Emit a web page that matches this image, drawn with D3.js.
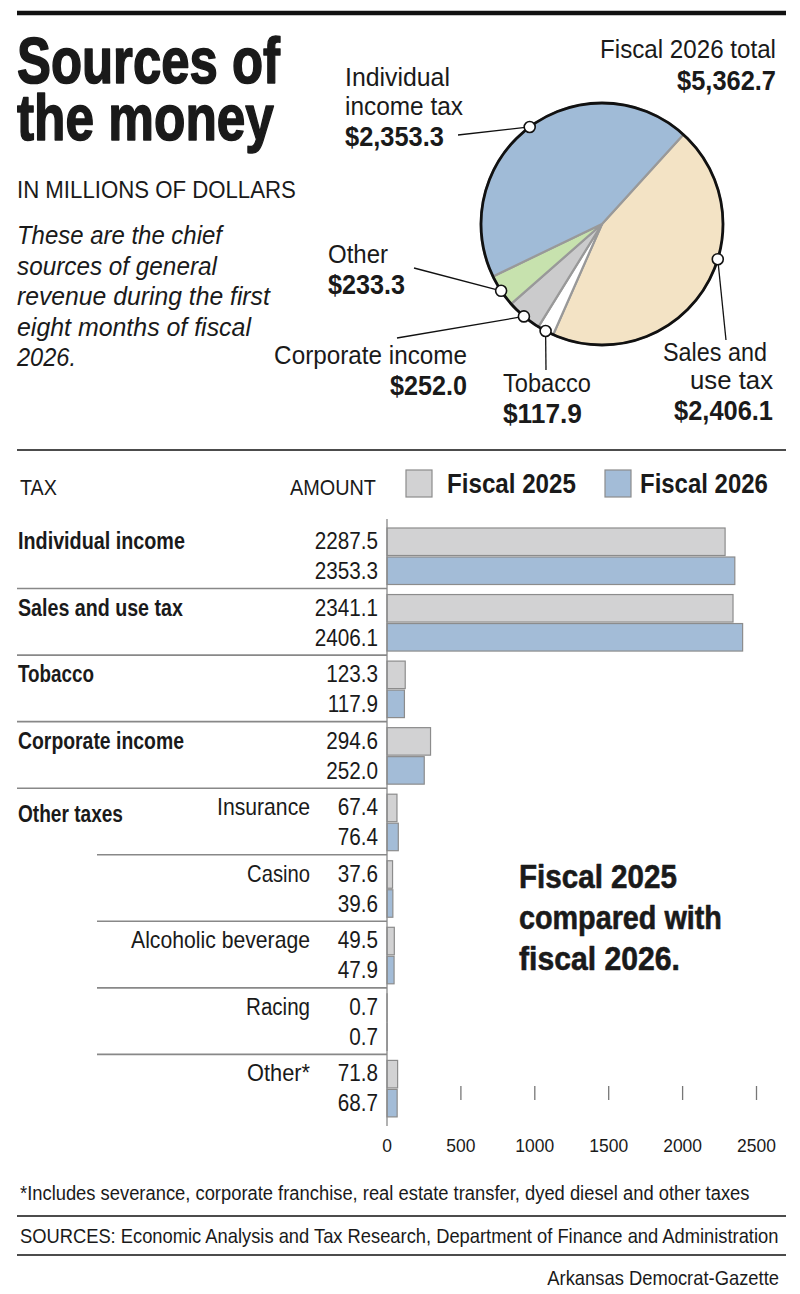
<!DOCTYPE html>
<html><head><meta charset="utf-8">
<script src="https://cdn.jsdelivr.net/npm/d3@7"></script>
<style>
html,body{margin:0;padding:0;background:#fff;}
svg text{font-family:"Liberation Sans",Arial,"Helvetica",sans-serif;fill:#1a1a1a;}
</style></head>
<body>
<svg id="c" width="800" height="1294"></svg>
<script>
// ---- data ----
const pieLabels = ["Sales and use tax", "Tobacco", "Corporate income", "Other", "Individual income tax"];
const pieValues = [2406.1, 117.9, 252.0, 233.3, 2353.3];
const pieValueText = ["$2,406.1", "$117.9", "$252.0", "$233.3", "$2,353.3"];
const pieTotalText = "$5,362.7";

const barGroups = ["Individual income", "Sales and use tax", "Tobacco", "Corporate income", "Insurance", "Casino", "Alcoholic beverage", "Racing", "Other*"];
const fiscal2025 = [2287.5, 2341.1, 123.3, 294.6, 67.4, 37.6, 49.5, 0.7, 71.8];
const fiscal2026 = [2353.3, 2406.1, 117.9, 252.0, 76.4, 39.6, 47.9, 0.7, 68.7];
const fiscal2025Text = ["2287.5", "2341.1", "123.3", "294.6", "67.4", "37.6", "49.5", "0.7", "71.8"];
const fiscal2026Text = ["2353.3", "2406.1", "117.9", "252.0", "76.4", "39.6", "47.9", "0.7", "68.7"];
const axisTicks = [0, 500, 1000, 1500, 2000, 2500];

// ---- helpers ----
const svg = d3.select("#c");
function txt(x, y, s, o = {}) {
  const t = svg.append("text").attr("x", 0).attr("y", 0).text(s)
    .style("font-size", (o.size || 22) + "px")
    .style("font-weight", o.bold ? "bold" : "normal")
    .style("font-style", o.italic ? "italic" : "normal")
    .attr("text-anchor", o.anchor || "start");
  const L = t.node().getComputedTextLength();
  const w = o.w || L * (o.k || 0.88);
  const sx = L > 0 ? w / L : 1;
  t.attr("transform", `translate(${x},${y}) scale(${sx},1)`);
  if (o.heavy) t.attr("stroke", "#1a1a1a").attr("stroke-width", o.heavy).attr("stroke-linejoin", "round");
  return t;
}
function rule(x1, x2, y, w, col) {
  svg.append("line").attr("x1", x1).attr("x2", x2).attr("y1", y).attr("y2", y)
    .attr("stroke", col || "#111").attr("stroke-width", w);
}

// ---- header ----
rule(17, 786, 13, 4.5);
txt(17, 83, "Sources of", {size: 65, bold: true, w: 263, heavy: 1.6});
txt(17, 140, "the money", {size: 65, bold: true, w: 257, heavy: 1.6});
txt(17, 198, "IN MILLIONS OF DOLLARS", {size: 24, w: 279});
const intro = ["These are the chief", "sources of general", "revenue during the first", "eight months of fiscal", "2026."];
const introW = [205, 200, 253, 234, 59];
intro.forEach((s, i) => txt(17, 244 + i * 30.5, s, {size: 26, italic: true, w: introW[i]}));

// ---- pie ----
const cx = 602, cy = 224, R = 121;
const startA = 42.3 * Math.PI / 180;
const pie = d3.pie().sort(null).startAngle(startA).endAngle(startA + 2 * Math.PI);
const arcs = pie(pieValues);
const pieColors = ["#f3e3c5", "#ffffff", "#cbcbcc", "#c7e2ae", "#a0bbd7"];
const arc = d3.arc().innerRadius(0).outerRadius(R);
const pg = svg.append("g").attr("transform", `translate(${cx},${cy})`);
pg.selectAll("path").data(arcs).join("path")
  .attr("d", arc).attr("fill", (d, i) => pieColors[i])
  .attr("stroke", "#999").attr("stroke-width", 2.2).attr("stroke-linejoin", "round");
pg.append("circle").attr("r", R).attr("fill", "none").attr("stroke", "#111").attr("stroke-width", 2.8);

// markers & leaders
const markerFrac = [0.4, 0.5, 0.5, 0.5, 0.5];
const leaderEnd = [[726, 340], [546, 370], [397, 338], [414, 268], [458, 135]];
arcs.forEach((d, i) => {
  const a = d.startAngle + (d.endAngle - d.startAngle) * markerFrac[i];
  const mx = cx + R * Math.sin(a), my = cy - R * Math.cos(a);
  svg.append("line").attr("x1", leaderEnd[i][0]).attr("y1", leaderEnd[i][1]).attr("x2", mx).attr("y2", my)
    .attr("stroke", "#111").attr("stroke-width", 1.3);
  svg.append("circle").attr("cx", mx).attr("cy", my).attr("r", 5.5)
    .attr("fill", "#fff").attr("stroke", "#111").attr("stroke-width", 1.6);
});

// pie labels
txt(776, 58, "Fiscal 2026 total", {size: 26, anchor: "end", w: 176});
txt(776, 90, pieTotalText, {size: 27, bold: true, anchor: "end", w: 99});
txt(345, 86, "Individual", {size: 25, w: 105});
txt(345, 115, "income tax", {size: 25, w: 118});
txt(345, 146, pieValueText[4], {size: 27, bold: true, w: 99});
txt(328, 263, pieLabels[3], {size: 26, w: 60});
txt(328, 294, pieValueText[3], {size: 27, bold: true, w: 77});
txt(467, 364, pieLabels[2], {size: 26, anchor: "end", w: 193});
txt(467, 395, pieValueText[2], {size: 27, bold: true, anchor: "end", w: 77});
txt(503, 392, pieLabels[1], {size: 26, w: 88});
txt(503, 423, pieValueText[1], {size: 27, bold: true, w: 79});
txt(767, 361, "Sales and", {size: 26, anchor: "end", w: 104});
txt(773, 389, "use tax", {size: 26, anchor: "end", w: 83});
txt(773, 420, pieValueText[0], {size: 27, bold: true, anchor: "end", w: 99});

rule(17, 786, 450, 1.6);

// ---- bar chart ----
txt(20, 495, "TAX", {size: 22, w: 37});
txt(376, 495, "AMOUNT", {size: 22, anchor: "end", w: 86});
svg.append("rect").attr("x", 406).attr("y", 470).attr("width", 26).attr("height", 27)
  .attr("fill", "#d2d2d3").attr("stroke", "#8c8c8c").attr("stroke-width", 1.2);
txt(447, 493, "Fiscal 2025", {size: 27, bold: true, w: 129});
svg.append("rect").attr("x", 605).attr("y", 470).attr("width", 26).attr("height", 27)
  .attr("fill", "#a3bcd7").attr("stroke", "#8c8c8c").attr("stroke-width", 1.2);
txt(640, 493, "Fiscal 2026", {size: 27, bold: true, w: 128});

const x = d3.scaleLinear().domain([0, 2500]).range([387, 756.5]);
const y = d3.scaleBand().domain(d3.range(barGroups.length)).range([527, 527 + 66.55 * barGroups.length]).paddingInner(0).paddingOuter(0);
const barH = 27.5, barStep = 29;

// separators
barGroups.forEach((g, i) => {
  if (i === 0) return;
  rule(i <= 4 ? 17 : 97, 387, y(i) - 5, 1.6, "#888");
});

// bars
const bg = svg.append("g");
bg.selectAll("rect.a").data(fiscal2025).join("rect").attr("class", "a")
  .attr("x", x(0)).attr("y", (d, i) => y(i) + 1).attr("width", d => Math.max(0, x(d) - x(0))).attr("height", barH)
  .attr("fill", "#d2d2d3").attr("stroke", "#8c8c8c").attr("stroke-width", 1.2);
bg.selectAll("rect.b").data(fiscal2026).join("rect").attr("class", "b")
  .attr("x", x(0)).attr("y", (d, i) => y(i) + 1 + barStep).attr("width", d => Math.max(0, x(d) - x(0))).attr("height", barH)
  .attr("fill", "#a3bcd7").attr("stroke", "#8c8c8c").attr("stroke-width", 1.2);

// axis line
svg.append("line").attr("x1", x(0)).attr("x2", x(0)).attr("y1", 519).attr("y2", 1126)
  .attr("stroke", "#888").attr("stroke-width", 1.3);

// labels
const mainLabelW = [167, 165, 76, 166];
const subLabelW = {4: 93, 5: 63, 6: 179, 7: 64, 8: 63};
barGroups.forEach((g, i) => {
  const top = y(i);
  if (i < 4) txt(18, top + 22, g, {size: 23, bold: true, w: mainLabelW[i]});
  else txt(310, top + 22, g, {size: 23, anchor: "end", w: subLabelW[i]});
  txt(378, top + 22, fiscal2025Text[i], {size: 23, anchor: "end", k: 0.9});
  txt(378, top + 22 + barStep + 1, fiscal2026Text[i], {size: 23, anchor: "end", k: 0.9});
});
txt(18, y(4) + 29, "Other taxes", {size: 23, bold: true, w: 105});

// ticks
const ax = svg.append("g");
ax.selectAll("line").data(axisTicks.slice(1)).join("line")
  .attr("x1", d => x(d)).attr("x2", d => x(d)).attr("y1", 1086).attr("y2", 1100)
  .attr("stroke", "#777").attr("stroke-width", 1.3);
axisTicks.forEach(d => txt(x(d), 1152, String(d), {size: 19, anchor: "middle", k: 0.92}));

// annotation
txt(519, 888, "Fiscal 2025", {size: 33, bold: true, w: 158, heavy: 0.6});
txt(519, 929, "compared with", {size: 33, bold: true, w: 203, heavy: 0.6});
txt(519, 970, "fiscal 2026.", {size: 33, bold: true, w: 161, heavy: 0.6});

// footer
txt(20, 1200, "*Includes severance, corporate franchise, real estate transfer, dyed diesel and other taxes", {size: 20, w: 730});
rule(17, 786, 1216, 1.6);
txt(20, 1243, "SOURCES: Economic Analysis and Tax Research, Department of Finance and Administration", {size: 20, w: 759});
rule(17, 786, 1255, 1.6);
txt(779, 1285, "Arkansas Democrat-Gazette", {size: 20, anchor: "end", w: 232});
</script>
</body></html>
